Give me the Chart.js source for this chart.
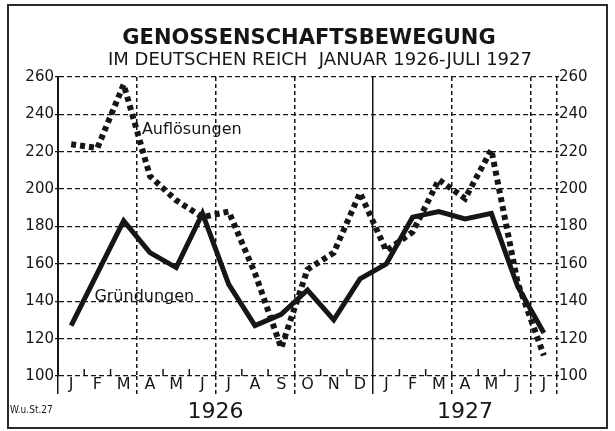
<!DOCTYPE html>
<html>
<head>
<meta charset="utf-8">
<script src="https://cdn.jsdelivr.net/npm/chart.js@4/dist/chart.umd.min.js"></script>
<style>
body { margin: 0; background: #fff; }
canvas { display: block; }
</style>
</head>
<body>
<canvas id="chart" width="615" height="431"></canvas>
<script>
// Genossenschaftsbewegung im Deutschen Reich, Jan 1926 - Jul 1927
var months = ['J', 'F', 'M', 'A', 'M', 'J', 'J', 'A', 'S', 'O', 'N', 'D', 'J', 'F', 'M', 'A', 'M', 'J', 'J'];
var years = ['1926', '1927'];
var monthsPerYear = [12, 7];
var gruendungen = [127, 155, 183, 166, 158, 187, 149, 127, 133, 146, 130, 152, 160, 185, 188, 184, 187, 148, 123];
var aufloesungen = [224, 222, 256, 207, 194, 185, 188, 155, 115, 157, 166, 198, 167, 177, 205, 195, 221, 150, 111];
var yMin = 100;
var yMax = 260;
var yStep = 20;

var titleText = 'GENOSSENSCHAFTSBEWEGUNG';
var subtitleText = 'IM DEUTSCHEN REICH  JANUAR 1926-JULI 1927';

var INK = '#161616';
var FONT = "'DejaVu Sans', 'Liberation Sans', sans-serif";

// grid lines sit on month boundaries; only every quarter gets a line
function isQuarterLine(ctx)
{
    if (ctx.index === undefined) return true; // last boundary
    return ctx.index % 3 === 0;
}

function gridColor(ctx)
{
    return isQuarterLine(ctx) ? INK : 'rgba(0,0,0,0)';
}

function gridDash(ctx)
{
    if (ctx.index === 0 || ctx.index === 12) return [];
    return [4, 3];
}

var framePlugin = {
    id: 'frame',
    beforeDraw: function(chart) {
        var c = chart.ctx;
        c.save();
        c.fillStyle = '#fff';
        c.fillRect(0, 0, chart.width, chart.height);
        c.strokeStyle = '#2a2a2a';
        c.lineWidth = 2;
        c.strokeRect(8, 5, 599, 423);

        // heading, set a little right of centre like the print
        c.fillStyle = INK;
        c.textAlign = 'center';
        c.textBaseline = 'middle';
        c.font = 'bold 21px ' + FONT;
        c.fillText(titleText, 309, 39);
        c.font = '18px ' + FONT;
        c.fillText(subtitleText, 320, 60);
        c.restore();
    },
    afterDraw: function(chart) {
        var c = chart.ctx;
        var x = chart.scales.x;
        var y = chart.scales.y;
        var area = chart.chartArea;
        var half = (x.getPixelForTick(1) - x.getPixelForTick(0)) / 2;

        c.save();
        // small month marks on the base line
        c.strokeStyle = INK;
        c.lineWidth = 1.5;
        for (var i = 1; i < months.length; i++) {
            if (i % 3 === 0) continue;
            var bx = x.getPixelForTick(i) - half;
            c.beginPath();
            c.moveTo(bx, area.bottom);
            c.lineTo(bx, area.bottom - 7);
            c.stroke();
        }

        // year labels centred under their months
        c.fillStyle = INK;
        c.font = '22px ' + FONT;
        c.textAlign = 'center';
        c.textBaseline = 'middle';
        var start = 0;
        for (var k = 0; k < years.length; k++) {
            var end = start + monthsPerYear[k] - 1;
            var left = x.getPixelForTick(start) - half;
            var right = x.getPixelForTick(end) + half;
            c.fillText(years[k], (left + right) / 2, area.bottom + 36);
            start = end + 1;
        }

        // series names written into the plot
        c.font = '16px ' + FONT;
        c.textAlign = 'left';
        c.fillText('Auflösungen', x.getPixelForValue(3) - 8, y.getPixelForValue(231.5));
        c.fillText('Gründungen', x.getPixelForValue(1) - 3, y.getPixelForValue(142.3));

        // source note
        c.font = "10px 'DejaVu Sans Condensed', " + FONT;
        c.fillText('W.u.St.27', 10, 410);
        c.restore();
    }
};

var ctx = document.getElementById('chart').getContext('2d');
var chart = new Chart(ctx, {
    type: 'line',
    data: {
        labels: months,
        datasets: [
            {
                label: 'Gründungen',
                data: gruendungen,
                borderColor: INK,
                borderWidth: 5,
                borderJoinStyle: 'miter',
                pointRadius: 0,
                tension: 0,
                fill: false
            },
            {
                label: 'Auflösungen',
                data: aufloesungen,
                borderColor: INK,
                borderWidth: 6,
                borderDash: [5, 4],
                borderCapStyle: 'butt',
                borderJoinStyle: 'miter',
                pointRadius: 0,
                tension: 0,
                fill: false
            }
        ]
    },
    options: {
        responsive: false,
        animation: false,
        layout: { padding: { left: 10, right: 27, top: 77, bottom: 10 } },
        plugins: {
            legend: { display: false },
            tooltip: { enabled: false },
            title: { display: false }
        },
        scales: {
            x: {
                type: 'category',
                offset: true,
                afterFit: function(s) { s.height = 45; },
                border: { display: false, dash: gridDash },
                grid: {
                    offset: true,
                    color: gridColor,
                    tickColor: gridColor,
                    lineWidth: 1.5,
                    tickWidth: 1.5,
                    tickLength: 18,
                    tickBorderDash: gridDash
                },
                ticks: {
                    color: INK,
                    font: { family: FONT, size: 16 },
                    padding: -19,
                    autoSkip: false,
                    maxRotation: 0
                }
            },
            y: {
                position: 'left',
                min: yMin,
                max: yMax,
                afterFit: function(s) { s.width = 48; },
                border: { display: true, color: INK, width: 2, dash: [5, 3] },
                grid: {
                    color: INK,
                    lineWidth: 1.3,
                    tickLength: 3,
                    tickBorderDash: []
                },
                ticks: {
                    stepSize: yStep,
                    color: INK,
                    padding: 1,
                    font: { family: FONT, size: 15 }
                }
            },
            y2: {
                position: 'right',
                min: yMin,
                max: yMax,
                afterFit: function(s) { s.width = 31; },
                border: { display: false },
                grid: {
                    drawOnChartArea: false,
                    color: INK,
                    lineWidth: 1.3,
                    tickLength: 2
                },
                ticks: {
                    stepSize: yStep,
                    color: INK,
                    padding: 0,
                    font: { family: FONT, size: 15 }
                }
            }
        }
    },
    plugins: [framePlugin]
});
</script>
</body>
</html>
